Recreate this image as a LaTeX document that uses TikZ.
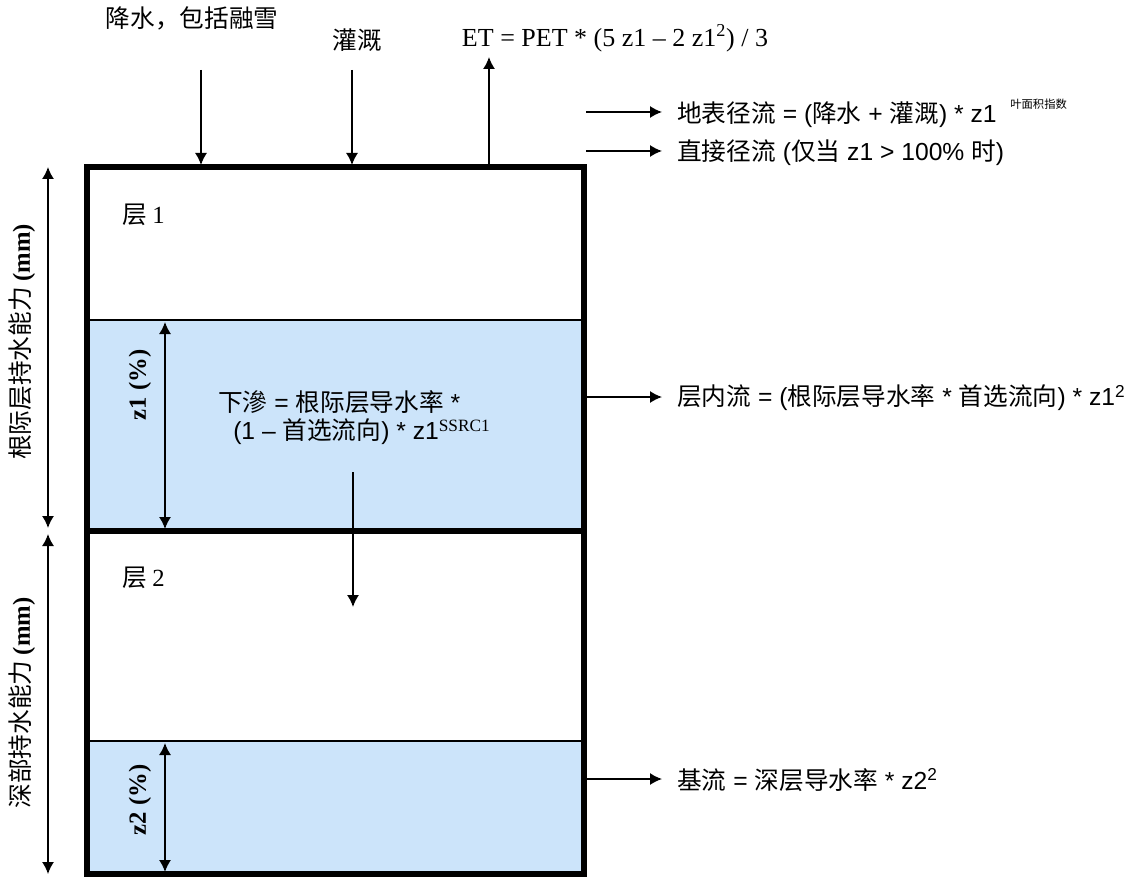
\documentclass[tikz,border=0pt]{standalone}
\usepackage{fontspec}
\setmainfont{Liberation Sans}
\newfontfamily\cjk{Noto Sans CJK SC}
\newfontfamily\ser{Liberation Serif}
\usetikzlibrary{arrows.meta}
\definecolor{waterblue}{RGB}{204,228,250}
\begin{document}
\begin{tikzpicture}[x=0.75pt,y=-0.75pt,
  font=\fontsize{18.5}{22}\selectfont,
  arr/.style={line width=1.1pt,-{Latex[length=9pt,width=9pt]}},
  darr/.style={line width=1.1pt,{Latex[length=9pt,width=9pt]}-{Latex[length=9pt,width=9pt]}},
  boxline/.style={line width=3.8pt},
  lab/.style={inner sep=0pt,anchor=west},
  vlab/.style={inner sep=0pt,rotate=90}]
\useasboundingbox (0,0) rectangle (1141,877);
% water zones
\fill[waterblue] (88,320) rectangle (584,531);
\fill[waterblue] (88,741) rectangle (584,874);
\draw[line width=1pt] (88,320) -- (584,320);
\draw[line width=1pt] (88,741) -- (584,741);
% layer boxes
\draw[boxline] (87,167) rectangle (584,531);
\draw[boxline] (87,531) rectangle (584,874);
\node[lab] (l1) at (122,215) {\cjk 层\ \ser 1};
\node[lab] (l2) at (122,578) {\cjk 层\ \ser 2};
% top inputs
\node[inner sep=0pt] (precip) at (192,18) {\cjk 降水，包括融雪};
\node[inner sep=0pt] (irr) at (357,40) {\cjk 灌溉};
\node[inner sep=0pt] (et) at (615,38) {\ser\fontsize{19.5}{22}\selectfont ET = PET * (5 z1 – 2 z1\textsuperscript{2}) / 3};
\coordinate (pA) at (201,70); \coordinate (pB) at (201,165);
\coordinate (iA) at (352,70); \coordinate (iB) at (352,165);
\coordinate (eA) at (489,165); \coordinate (eB) at (489,57);
\draw[arr] (pA) -- (pB);
\draw[arr] (iA) -- (iB);
\draw[arr] (eA) -- (eB);
% runoff
\node[lab] (sr) at (677,113) {\cjk 地表径流\rmfamily{} = (\cjk 降水\rmfamily{} + \cjk 灌溉\rmfamily{}) * z1\ \ \raisebox{1.1ex}{\cjk\fontsize{8.5}{8.5}\selectfont 叶面积指数}};
\node[lab] (dr) at (677,153) {\cjk 直接径流\rmfamily{} (\cjk 仅当\rmfamily{} z1 > 100\% \cjk 时\rmfamily{})};
\coordinate (srA) at (586,112); \coordinate (srB) at (662,112);
\coordinate (drA) at (586,151); \coordinate (drB) at (662,151);
\draw[arr] (srA) -- (srB);
\draw[arr] (drA) -- (drB);
% lateral flow
\node[lab] (lf) at (677,398) {\cjk 层内流\rmfamily{} = (\cjk 根际层导水率\rmfamily{} * \cjk 首选流向\rmfamily{}) * z1\textsuperscript{2}};
\coordinate (lfA) at (586,397); \coordinate (lfB) at (662,397);
\draw[arr] (lfA) -- (lfB);
% base flow
\node[lab] (bf) at (677,780) {\cjk 基流\rmfamily{} = \cjk 深层导水率\rmfamily{} * z2\textsuperscript{2}};
\coordinate (bfA) at (586,779); \coordinate (bfB) at (662,779);
\draw[arr] (bfA) -- (bfB);
% percolation
\node[lab] (perc1) at (218,402) {\cjk 下滲\rmfamily{} = \cjk 根际层导水率\rmfamily{} *};
\node[lab] (perc2) at (233,432) {(1 – \cjk 首选流向\rmfamily{}) * z1\textsuperscript{\ser SSRC1}};
\coordinate (pcA) at (353,472); \coordinate (pcB) at (353,607);
\draw[arr] (pcA) -- (pcB);
% left capacity arrows
\coordinate (rA) at (48,167); \coordinate (rB) at (48,528);
\coordinate (dA) at (48,534); \coordinate (dB) at (48,874);
\draw[darr] (rA) -- (rB);
\draw[darr] (dA) -- (dB);
\node[vlab] (rz) at (22,342) {\cjk 根际层持水能力\ \ser\bfseries (mm)};
\node[vlab] (dz) at (22,703) {\cjk 深部持水能力\ \ser\bfseries (mm)};
% z arrows
\coordinate (z1A) at (165,322); \coordinate (z1B) at (165,529);
\coordinate (z2A) at (165,743); \coordinate (z2B) at (165,872);
\draw[darr] (z1A) -- (z1B);
\draw[darr] (z2A) -- (z2B);
\node[vlab] (z1l) at (140,385) {\ser\bfseries z1 (\%)};
\node[vlab] (z2l) at (140,800) {\ser\bfseries z2 (\%)};
\end{tikzpicture}
\end{document}
